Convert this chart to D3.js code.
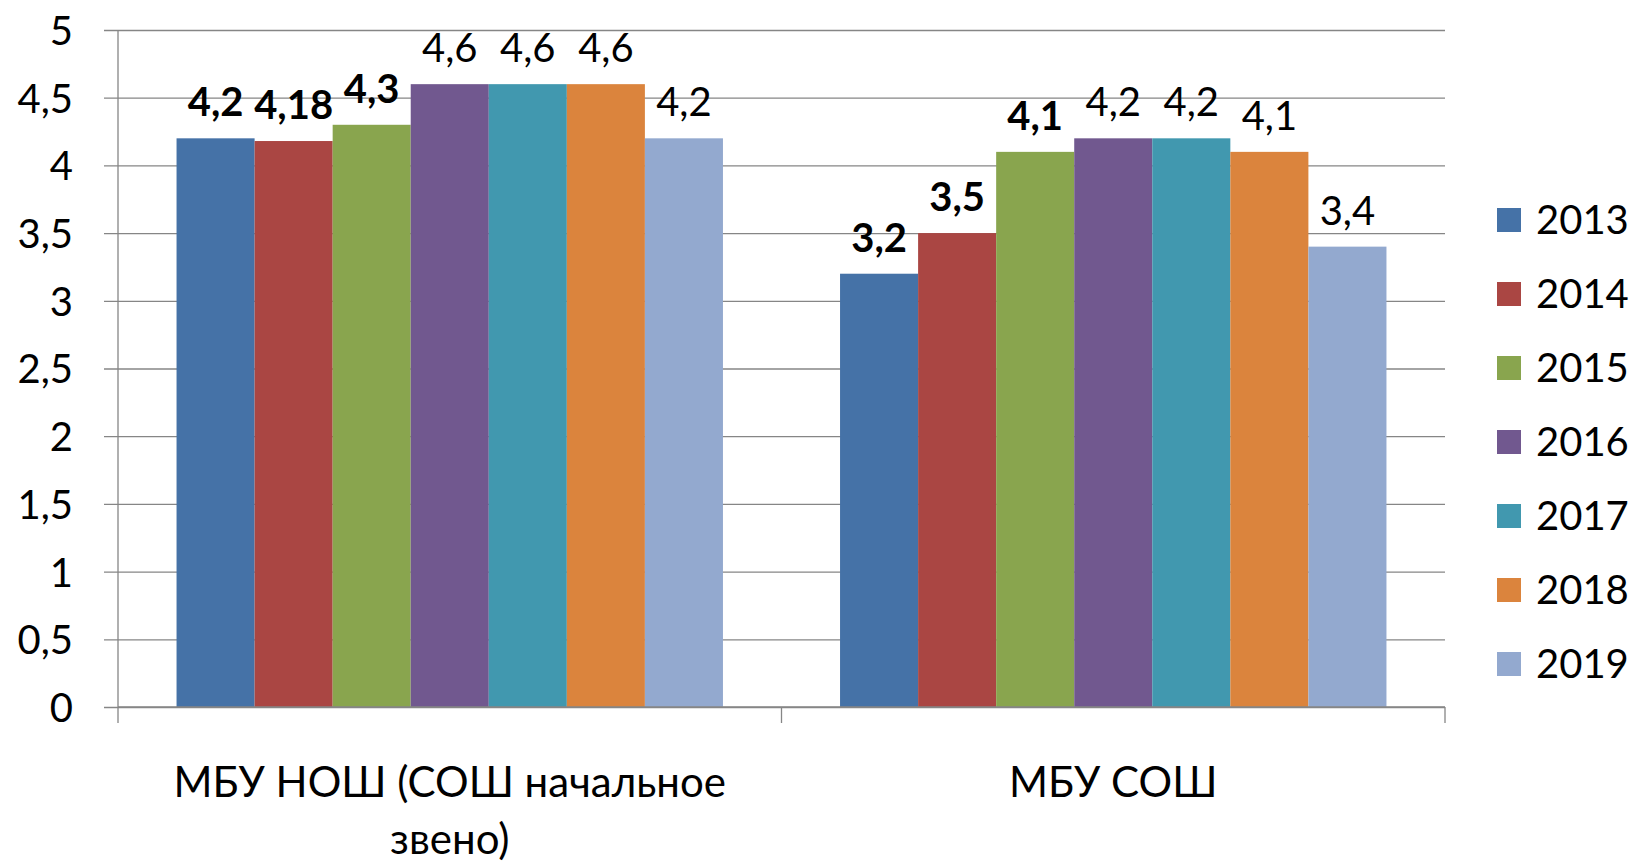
<!DOCTYPE html>
<html><head><meta charset="utf-8">
<script src="https://cdn.jsdelivr.net/npm/d3@7"></script>
<style>
html,body{margin:0;padding:0;background:#fff;}
text{font-family:Lato,"Open Sans","Noto Sans",sans-serif;fill:#000;}
</style></head>
<body>
<svg id="chart" width="1636" height="862"></svg>
<script>
const categories = ["МБУ НОШ (СОШ начальное звено)", "МБУ СОШ"];
const years = ["2013","2014","2015","2016","2017","2018","2019"];
const values2013 = [4.2, 3.2];
const values2014 = [4.18, 3.5];
const values2015 = [4.3, 4.1];
const values2016 = [4.6, 4.2];
const values2017 = [4.6, 4.2];
const values2018 = [4.6, 4.1];
const values2019 = [4.2, 3.4];
const labels2013 = ["4,2", "3,2"];
const labels2014 = ["4,18", "3,5"];
const labels2015 = ["4,3", "4,1"];
const labels2016 = ["4,6", "4,2"];
const labels2017 = ["4,6", "4,2"];
const labels2018 = ["4,6", "4,1"];
const labels2019 = ["4,2", "3,4"];
const boldLabels = [[true,true],[true,true],[true,true],[false,false],[false,false],[false,false],[false,false]];
const yTicks = [0,0.5,1,1.5,2,2.5,3,3.5,4,4.5,5];
const yTickLabels = ["0","0,5","1","1,5","2","2,5","3","3,5","4","4,5","5"];
const colors = ["#4572A7","#AA4643","#89A54E","#71588F","#4198AF","#DB843D","#93A9CF"];

const seriesValues = [values2013,values2014,values2015,values2016,values2017,values2018,values2019];
const seriesLabels = [labels2013,labels2014,labels2015,labels2016,labels2017,labels2018,labels2019];
const series = years.map((y,i)=>({year:y, values:seriesValues[i], labels:seriesLabels[i], bold:boldLabels[i], color:colors[i]}));

const svg = d3.select("#chart");
const pLeft = 118, pRight = 1445, pTop = 30, pBottom = 707;
const fontSize = 40;
const catFontSize = 42;
const gridColor = "#868686";

const x0 = d3.scaleBand().domain(categories).range([pLeft,pRight]).paddingInner(0).paddingOuter(0);
const groupWidthFrac = 7/(7+1.5);
const x1 = d3.scaleBand().domain(years).range([0, x0.bandwidth()*groupWidthFrac]).padding(0);
const groupOffset = (x0.bandwidth() - x0.bandwidth()*groupWidthFrac)/2;
const y = d3.scaleLinear().domain([0,5]).range([pBottom, pTop]);

// gridlines
const yAxis = d3.axisLeft(y).tickValues(yTicks).tickSize(-(pRight-pLeft)).tickFormat((d,i)=>yTickLabels[i]);
const gy = svg.append("g").attr("transform",`translate(${pLeft},0)`).call(yAxis);
gy.select(".domain").remove();
gy.selectAll(".tick line").attr("stroke",gridColor).attr("stroke-width",1.3).attr("x1",-14);
gy.selectAll(".tick text").attr("font-size",fontSize).attr("dy","0.36em").attr("x",-45).attr("fill","#000").style("font-family",'Lato,"Open Sans",sans-serif');

// y axis line
svg.append("line").attr("x1",pLeft).attr("x2",pLeft).attr("y1",pTop).attr("y2",pBottom).attr("stroke",gridColor).attr("stroke-width",1.3);

// bars
const groups = svg.append("g").selectAll("g").data(series).join("g").attr("fill",d=>d.color);
groups.selectAll("rect").data(d=>categories.map((c,j)=>({cat:c, v:d.values[j], year:d.year})))
  .join("rect")
  .attr("x",d=>x0(d.cat)+groupOffset+x1(d.year))
  .attr("width",x1.bandwidth())
  .attr("y",d=>y(d.v))
  .attr("height",d=>y(0)-y(d.v));

// data labels
const lg = svg.append("g");
series.forEach(s=>{
  categories.forEach((c,j)=>{
    lg.append("text")
      .attr("x", x0(c)+groupOffset+x1(s.year)+x1.bandwidth()/2)
      .attr("y", y(s.values[j]) - 22)
      .attr("text-anchor","middle")
      .attr("font-size",fontSize)
      .attr("font-weight", s.bold[j] ? "bold" : "normal")
      .text(s.labels[j]);
  });
});

// x axis line and ticks
const xAxis = d3.axisBottom(x0).tickSize(0).tickFormat("");
const gx = svg.append("g").attr("transform",`translate(0,${pBottom})`).call(xAxis);
gx.select(".domain").attr("stroke",gridColor).attr("stroke-width",1.3).attr("d",`M${pLeft},0H${pRight}`);
const tickXs = [pLeft, ...categories.map(c=>x0(c)+x0.bandwidth())];
svg.append("g").selectAll("line").data(tickXs).join("line")
  .attr("x1",d=>d).attr("x2",d=>d).attr("y1",pBottom).attr("y2",pBottom+16)
  .attr("stroke",gridColor).attr("stroke-width",1.3);

// category labels with wrapping
const maxLineWidth = 600;
categories.forEach(c=>{
  const cx = x0(c)+x0.bandwidth()/2;
  const t = svg.append("text").attr("text-anchor","middle").attr("font-size",catFontSize)
    .attr("x", cx).attr("y", 797);
  const words = c.split(" ");
  let line = [];
  let tspan = t.append("tspan").attr("x", cx).attr("dy",0);
  words.forEach(w=>{
    line.push(w);
    tspan.text(line.join(" "));
    if (tspan.node().getComputedTextLength() > maxLineWidth && line.length>1) {
      line.pop();
      tspan.text(line.join(" "));
      line = [w];
      tspan = t.append("tspan").attr("x", cx).attr("dy",57).text(w);
    }
  });
});

// legend
const legend = svg.append("g");
series.forEach((s,i)=>{
  const cy = 220 + i*74;
  legend.append("rect").attr("x",1497).attr("y",cy-12).attr("width",24).attr("height",24).attr("fill",s.color);
  legend.append("text").attr("x",1536).attr("y",cy).attr("dy","0.36em").attr("font-size",fontSize).text(s.year);
});
</script>
</body></html>
